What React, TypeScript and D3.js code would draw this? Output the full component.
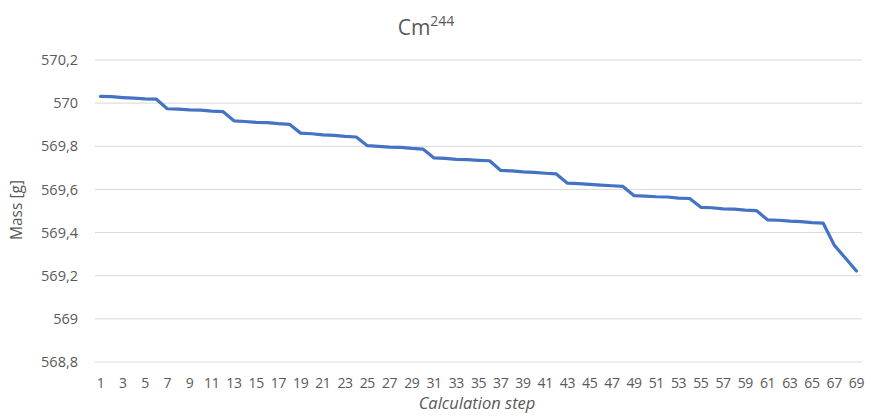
import React from "react";
import { scaleBand, scaleLinear, line } from "d3";

const steps: number[] = Array.from({ length: 69 }, (_, i) => i + 1);

const massValues: number[] = [
  570.031, 570.03, 570.026, 570.023, 570.02, 570.019,
  569.974, 569.972, 569.969, 569.968, 569.963, 569.961,
  569.918, 569.915, 569.911, 569.91, 569.905, 569.902,
  569.861, 569.858, 569.853, 569.851, 569.846, 569.843,
  569.803, 569.8, 569.796, 569.795, 569.79, 569.787,
  569.746, 569.744, 569.739, 569.738, 569.735, 569.733,
  569.688, 569.686, 569.681, 569.679, 569.675, 569.672,
  569.629, 569.627, 569.623, 569.62, 569.617, 569.614,
  569.571, 569.569, 569.566, 569.565, 569.56, 569.558,
  569.517, 569.515, 569.51, 569.509, 569.504, 569.502,
  569.459, 569.457, 569.453, 569.451, 569.446, 569.444,
  569.342, 569.282, 569.222,
];

const yTicks: number[] = [568.8, 569, 569.2, 569.4, 569.6, 569.8, 570, 570.2];

const FONT = "'Open Sans', Lato, sans-serif";
const TEXT = "#595959";

const fmt = (v: number) => String(+v.toFixed(1)).replace(".", ",");

export default function App() {
  const width = 881;
  const height = 416;
  const plot = { left: 95, right: 862, top: 60, bottom: 362 };

  const x = scaleBand<number>()
    .domain(steps)
    .range([plot.left, plot.right]);
  const cx = (s: number) => (x(s) ?? 0) + x.bandwidth() / 2;

  const y = scaleLinear()
    .domain([568.8, 570.2])
    .range([plot.bottom, plot.top]);

  const path = line<number>()
    .x((_, i) => cx(steps[i]))
    .y((d) => y(d))(massValues);

  return (
    <svg
      width={width}
      height={height}
      style={{ position: "absolute", left: 0, top: 0, background: "#fff" }}
      fontFamily={FONT}
    >
      {/* grid */}
      {yTicks.map((t) => (
        <line
          key={t}
          x1={plot.left}
          x2={plot.right}
          y1={y(t)}
          y2={y(t)}
          stroke="#d9d9d9"
          strokeWidth={1}
        />
      ))}

      {/* y labels */}
      {yTicks.map((t) => (
        <text
          key={"l" + t}
          x={78}
          y={y(t)}
          dy="0.35em"
          textAnchor="end"
          fontSize={14.5}
          fill={TEXT}
        >
          {fmt(t)}
        </text>
      ))}

      {/* x labels, every other step */}
      {steps
        .filter((s) => s % 2 === 1)
        .map((s) => (
          <text
            key={"x" + s}
            x={cx(s)}
            y={383}
            dy="0.35em"
            textAnchor="middle"
            fontSize={14}
            letterSpacing={-0.4}
            fill={TEXT}
          >
            {s}
          </text>
        ))}

      <path
        d={path ?? ""}
        fill="none"
        stroke="#4472c4"
        strokeWidth={3.2}
        strokeLinejoin="round"
        strokeLinecap="round"
      />

      {/* title */}
      <text x={426} y={35} textAnchor="middle" fontSize={21} fill={TEXT}>
        Cm
        <tspan fontSize={14} dy={-9}>
          244
        </tspan>
      </text>

      {/* axis titles */}
      <text
        transform="translate(22,210) rotate(-90)"
        textAnchor="middle"
        fontSize={15.5}
        fill={TEXT}
      >
        Mass [g]
      </text>
      <text
        x={477}
        y={409}
        textAnchor="middle"
        fontSize={16.5}
        fontStyle="italic"
        fill={TEXT}
      >
        Calculation step
      </text>
    </svg>
  );
}
